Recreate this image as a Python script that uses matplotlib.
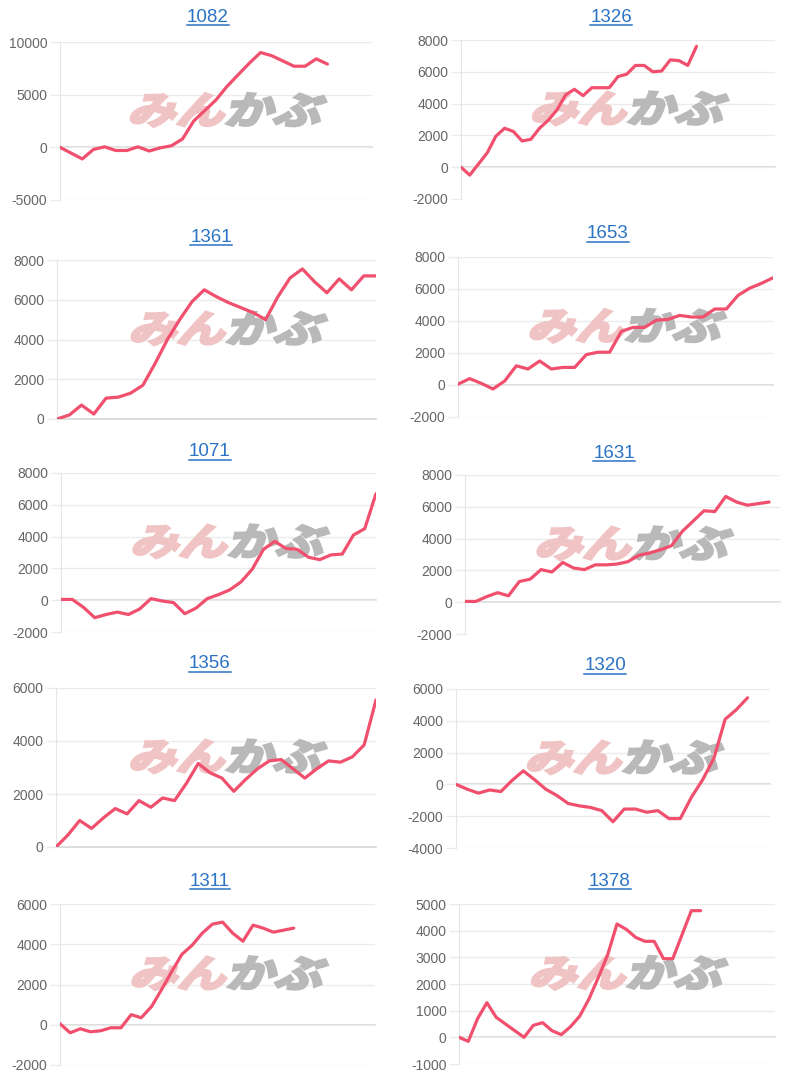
import matplotlib
matplotlib.use("Agg")
import matplotlib.pyplot as plt
from matplotlib.textpath import TextPath
from matplotlib.font_manager import FontProperties
from matplotlib.patches import PathPatch
from matplotlib.transforms import Affine2D, IdentityTransform
from matplotlib.lines import Line2D
from matplotlib.ticker import MultipleLocator

plt.rcParams["axes.unicode_minus"] = False

# ---- data ----
titles = ["1082", "1326", "1361", "1653", "1071", "1631", "1356", "1320", "1311", "1378"]

s1082 = [0, -550, -1100, -200, 50, -300, -300, 50, -350, -50, 150, 800, 2500, 3500,
         4500, 5800, 6900, 8000, 9000, 8700, 8200, 7700, 7700, 8400, 7900]
s1326 = [0, -500, 200, 900, 1950, 2450, 2250, 1650, 1750, 2450, 2950, 3600, 4550, 4900,
         4500, 5000, 5000, 5000, 5700, 5850, 6400, 6400, 6000, 6050, 6750, 6700, 6400, 7600]
s1361 = [0, 200, 700, 250, 1050, 1100, 1300, 1700, 2800, 4000, 5000, 5900, 6500, 6150,
         5850, 5600, 5350, 5000, 6150, 7100, 7550, 6900, 6350, 7050, 6500, 7200, 7200]
s1653 = [50, 400, 100, -250, 250, 1200, 1000, 1500, 1000, 1100, 1100, 1900, 2050, 2050,
         3350, 3600, 3600, 4050, 4100, 4350, 4250, 4250, 4750, 4750, 5600, 6050, 6350, 6700]
s1071 = [50, 50, -450, -1100, -900, -750, -900, -550, 100, -50, -150, -850, -500, 100,
         350, 650, 1150, 1950, 3200, 3700, 3250, 3200, 2700, 2550, 2850, 2900, 4100, 4500, 6700]
s1631 = [50, 50, 350, 600, 400, 1300, 1450, 2050, 1900, 2500, 2150, 2050, 2350, 2350,
         2400, 2550, 2950, 3100, 3300, 3550, 4450, 5100, 5750, 5700, 6650, 6300, 6100, 6200, 6300]
s1356 = [0, 450, 1000, 700, 1100, 1450, 1250, 1750, 1500, 1850, 1750, 2400, 3150, 2800,
         2600, 2100, 2550, 2950, 3250, 3300, 2950, 2600, 2950, 3250, 3200, 3400, 3850, 5550]
s1320 = [0, -300, -550, -350, -450, 250, 850, 300, -300, -700, -1200, -1350, -1450, -1650,
         -2350, -1550, -1550, -1750, -1650, -2150, -2150, -800, 300, 1650, 4100, 4700, 5450]
s1311 = [50, -400, -200, -350, -300, -150, -150, 500, 350, 900, 1750, 2650, 3500, 3950,
         4550, 5000, 5100, 4550, 4150, 4950, 4800, 4600, 4700, 4800]
s1378 = [0, -150, 700, 1300, 750, 500, 250, 0, 450, 550, 250, 100, 400, 800, 1450, 2250,
         3100, 4250, 4050, 3750, 3600, 3600, 2950, 2950, 3850, 4750, 4750]

series = [s1082, s1326, s1361, s1653, s1071, s1631, s1356, s1320, s1311, s1378]
n_slots = [29, 37, 27, 28, 29, 30, 28, 29, 32, 35]
y_ranges = [(-5000, 10000), (-2000, 8000), (0, 8000), (-2000, 8000), (-2000, 8000),
            (-2000, 8000), (0, 6000), (-4000, 6000), (-2000, 6000), (-1000, 5000)]
y_steps = [5000, 2000, 2000, 2000, 2000, 2000, 2000, 2000, 2000, 1000]

# plot boxes in pixels: left, right, top, bottom
boxes = [(60, 372, 42, 200), (461, 775, 40, 199),
         (57, 376, 260, 419), (458, 773, 257, 417),
         (61, 376, 473, 632), (465, 780, 475, 634),
         (56, 376, 688, 847), (456, 770, 689, 848),
         (60, 375, 904, 1065), (459, 775, 904, 1064)]
title_pos = [(208, 17), (611, 17), (211, 237), (608, 234), (210, 452),
             (614, 453), (210, 664), (605, 666), (210, 881), (610, 881)]

W, H = 800, 1080
LINE = "#f0506e"
BLUE = "#2b73c4"
fig = plt.figure(figsize=(W / 100, H / 100), dpi=100)
fig.patch.set_facecolor("white")

fp = FontProperties(family="Noto Sans CJK JP", weight="bold")
p_pink = TextPath((0, 0), "みん", size=48, prop=fp)
p_gray = TextPath((0, 0), "かぶ", size=48, prop=fp)
pink_w = p_pink.get_extents().x1
p_gray = p_gray.transformed(Affine2D().translate(pink_w + 2, 0))
ext_all = p_pink.get_extents().union([p_pink.get_extents(), p_gray.get_extents()])

axes = []
for i, (l, r, t, b) in enumerate(boxes):
    ax = fig.add_axes([l / W, 1 - b / H, (r - l) / W, (b - t) / H])
    data = series[i]
    ax.plot(range(len(data)), data, color=LINE, lw=2.3, zorder=3,
            solid_joinstyle="round", solid_capstyle="round")
    ax.set_xlim(0, n_slots[i] - 1)
    lo, hi = y_ranges[i]
    ax.set_ylim(lo, hi)
    ax.yaxis.set_major_locator(MultipleLocator(y_steps[i]))
    ax.set_xticks([])
    ax.grid(axis="y", color="#ebebeb", lw=1, zorder=0)
    ax.axhline(0, color="#d2d2d2", lw=1.1, zorder=1, clip_on=False)
    for side in ["top", "right", "bottom"]:
        ax.spines[side].set_visible(False)
    ax.spines["left"].set_color("#e6e6e6")
    ax.tick_params(axis="y", length=7, width=1, color="#ebebeb", pad=2,
                   labelsize=10, labelcolor="#666666")
    for lab in ax.get_yticklabels():
        lab.set_family("Liberation Sans")
    ax.set_facecolor("none")

    # watermark
    cx, cy = ax.transAxes.transform((0.54, 0.57))
    sc = 190 / ext_all.width
    tr = (Affine2D().translate(-ext_all.x0 - ext_all.width / 2, -ext_all.y0 - ext_all.height / 2)
          .scale(sc, sc * 0.78).skew_deg(16, 0).translate(cx, cy))
    ax.add_patch(PathPatch(p_pink, transform=tr, facecolor="#f0c4c4", edgecolor="#f0c4c4",
                           lw=2.2, zorder=2))
    ax.add_patch(PathPatch(p_gray, transform=tr, facecolor="#b9b9b9", edgecolor="#b9b9b9",
                           lw=2.2, zorder=2))
    axes.append(ax)

# titles with underline
txts = []
for name, (x, y) in zip(titles, title_pos):
    txts.append(fig.text(x / W, 1 - y / H, name, ha="center", va="center",
                         fontsize=13.5, color=BLUE, family="Liberation Sans"))
fig.canvas.draw()
ren = fig.canvas.get_renderer()
for tx in txts:
    bb = tx.get_window_extent(ren)
    yy = bb.y0 + 1
    fig.add_artist(Line2D([bb.x0, bb.x1], [yy, yy], color=BLUE, lw=1.1,
                          transform=IdentityTransform()))

fig.savefig("out.png", dpi=100)
